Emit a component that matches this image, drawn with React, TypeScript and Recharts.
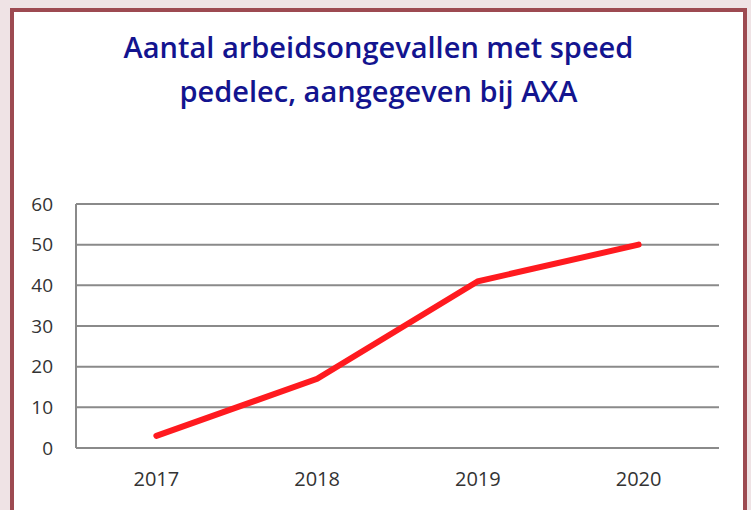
import React from "react";
import { LineChart, Line, XAxis, YAxis, CartesianGrid } from "recharts";

const years = ["2017", "2018", "2019", "2020"];
const accidents = [3, 17, 41, 50];
const yTicks = [0, 10, 20, 30, 40, 50, 60];
const titleLines = ["Aantal arbeidsongevallen met speed", "pedelec, aangegeven bij AXA"];

const data = years.map((y, i) => ({ year: y, value: accidents[i] }));

export default function App() {
  return (
    <div
      style={{
        position: "absolute",
        left: 0,
        top: 0,
        width: 751,
        height: 510,
        background: "#efe3e5",
        overflow: "hidden",
      }}
    >
      <div
        style={{
          position: "absolute",
          left: 10,
          top: 8,
          width: 737,
          height: 520,
          boxSizing: "border-box",
          border: "4px solid #9d4a51",
          background: "#ffffff",
        }}
      />
      <div
        style={{
          position: "absolute",
          left: 10,
          top: 25,
          width: 737,
          textAlign: "center",
          fontFamily: "'Open Sans', sans-serif",
          fontWeight: 600,
          fontSize: 29,
          lineHeight: "44px",
          letterSpacing: "0px",
          color: "#13148f",
        }}
      >
        {titleLines.map((t) => (
          <div key={t}>{t}</div>
        ))}
      </div>
      <div style={{ position: "absolute", left: 0, top: 0 }}>
        <LineChart
          width={751}
          height={510}
          data={data}
          margin={{ top: 204, right: 32, bottom: 22, left: 0 }}
        >
          <CartesianGrid vertical={false} stroke="#8a8a8a" strokeWidth={2} />
          <XAxis
            dataKey="year"
            scale="band"
            height={40}
            axisLine={false}
            tickLine={false}
            tickSize={0}
            tickMargin={24}
            tick={{ fill: "#333333", fontSize: 20, fontFamily: "'Open Sans', sans-serif" }}
          />
          <YAxis
            width={76}
            domain={[0, 60]}
            ticks={yTicks}
            interval={0}
            axisLine={{ stroke: "#8a8a8a", strokeWidth: 2 }}
            tickLine={false}
            tickSize={0}
            tickMargin={23}
            tick={{ fill: "#333333", fontSize: 19, fontFamily: "'Open Sans', sans-serif" }}
          />
          <Line
            type="linear"
            dataKey="value"
            stroke="#ff1a1f"
            strokeWidth={6}
            strokeLinecap="round"
            dot={false}
            activeDot={false}
            isAnimationActive={false}
          />
        </LineChart>
      </div>
    </div>
  );
}
